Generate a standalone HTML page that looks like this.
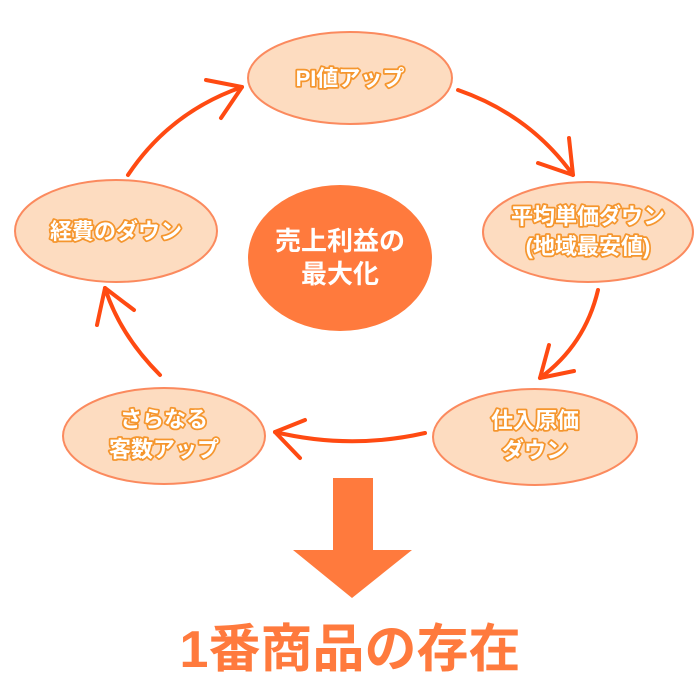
<!DOCTYPE html>
<html><head><meta charset="utf-8"><style>
html,body{margin:0;padding:0;background:#fff;}
svg{display:block;}
.t{font-family:"Liberation Sans","Noto Sans CJK JP",sans-serif;font-weight:bold;font-size:22px;fill:#fff;stroke:#f5962e;stroke-width:3.5px;paint-order:stroke;stroke-linejoin:round;text-anchor:middle;}
.e{fill:#fddcc0;stroke:#fb8a5e;stroke-width:2;}
.a{fill:none;stroke:#ff4a12;stroke-width:4;stroke-linecap:round;stroke-linejoin:round;}
</style></head><body>
<svg width="700" height="700" viewBox="0 0 700 700">
<ellipse class="e" cx="350" cy="78" rx="102" ry="46"/>
<ellipse class="e" cx="588" cy="232" rx="105" ry="50"/>
<ellipse class="e" cx="535" cy="437" rx="102" ry="48"/>
<ellipse class="e" cx="164" cy="436" rx="101" ry="48"/>
<ellipse class="e" cx="116" cy="231" rx="101" ry="51"/>
<ellipse cx="340" cy="258" rx="92" ry="73" fill="#ff7a3d"/>
<text class="t" x="350" y="86">PI値アップ</text>
<text class="t" x="588" y="224">平均単価ダウン</text>
<text class="t" x="588" y="254">(地域最安値)</text>
<text class="t" x="535" y="428">仕入原価</text>
<text class="t" x="535" y="458">ダウン</text>
<text class="t" x="164" y="427">さらなる</text>
<text class="t" x="164" y="457">客数アップ</text>
<text class="t" x="116" y="239">経費のダウン</text>
<text x="340" y="250" font-family="Liberation Sans,Noto Sans CJK JP,sans-serif" font-weight="bold" font-size="26" fill="#fff" text-anchor="middle">売上利益の</text>
<text x="340" y="283" font-family="Liberation Sans,Noto Sans CJK JP,sans-serif" font-weight="bold" font-size="26" fill="#fff" text-anchor="middle">最大化</text>
<path class="a" d="M128 175 Q170 112 242 87"/><path class="a" d="M206 80 L242 87 L221 118"/>
<path class="a" d="M458 90 Q530 115 573 175"/><path class="a" d="M538 163 L573 175 L569 138"/>
<path class="a" d="M598 290 Q585 345 540 378"/><path class="a" d="M549 345 L540 378 L574 371"/>
<path class="a" d="M425 433 Q350 450 275 432"/><path class="a" d="M305 420 L275 432 L300 458"/>
<path class="a" d="M160 375 Q120 335 105 288"/><path class="a" d="M97 325 L105 288 L134 310"/>
<polygon points="333,478 373,478 373,550 412,550 352,598 293,550 333,550" fill="#ff7a3d"/>
<text x="350" y="667" font-family="Liberation Sans,Noto Sans CJK JP,sans-serif" font-weight="bold" font-size="52" fill="#ff7a3d" text-anchor="middle">1番商品の存在</text>
</svg>
</body></html>
